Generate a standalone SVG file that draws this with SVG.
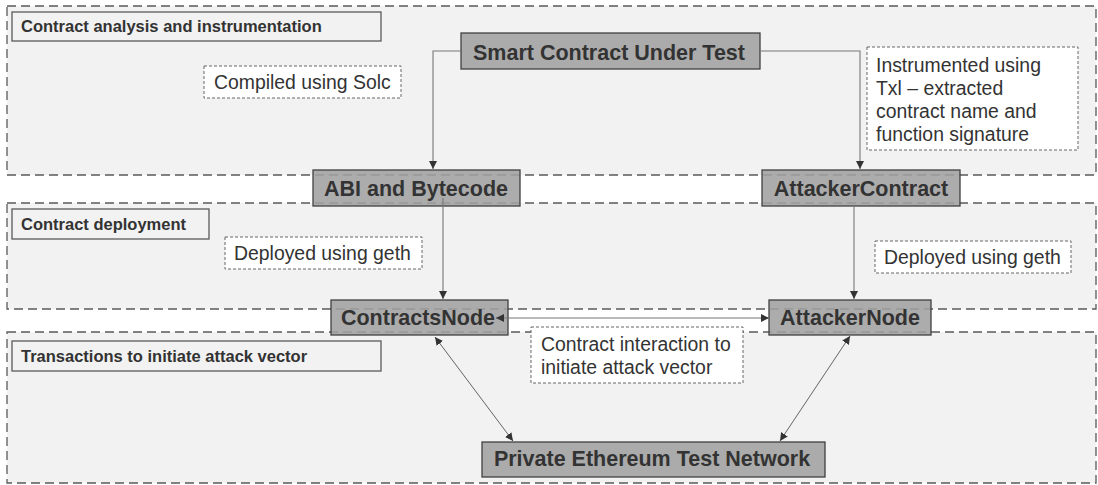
<svg xmlns="http://www.w3.org/2000/svg" width="1098" height="485" viewBox="0 0 1098 485">
<style>
.sec{fill:#f2f2f2;stroke:#595959;stroke-width:1.3;stroke-dasharray:9 5}
.lbl{fill:#f2f2f2;stroke:#595959;stroke-width:1.3}
.lt{font-family:"Liberation Sans",Arial,sans-serif;font-weight:bold;font-size:16.5px;fill:#333}
.note{fill:#fff;stroke:#666;stroke-width:1;stroke-dasharray:3 2}
.nt{font-family:"Liberation Sans",Arial,sans-serif;font-size:19.4px;fill:#333}
.node{fill:#a0a0a0;fill-opacity:0.88;stroke:#404040;stroke-width:1.3}
.ntx{font-family:"Liberation Sans",Arial,sans-serif;font-weight:bold;font-size:21.5px;fill:#333;text-anchor:middle}
.con{fill:none;stroke:#777;stroke-width:1.1}
.con2{fill:none;stroke:#555;stroke-width:0.9}
</style>
<defs>
<marker id="ah" viewBox="0 0 10 10" refX="10" refY="5" markerWidth="8" markerHeight="8" markerUnits="userSpaceOnUse" orient="auto-start-reverse">
<path d="M0,0 L10,5 L0,10 z" fill="#333"/>
</marker>
</defs>
<rect width="1098" height="485" fill="#fff"/>
<g id="sections">
<rect class="sec" x="7" y="6" width="1089" height="169"/>
<rect class="sec" x="7" y="203" width="1089" height="106"/>
<rect class="sec" x="7" y="332" width="1089" height="151"/>
</g>
<g id="label-analysis"><rect class="lbl" x="12" y="12" width="369" height="29"/><text class="lt" x="21" y="32">Contract analysis and instrumentation</text></g>
<g id="label-deployment"><rect class="lbl" x="12" y="209" width="197" height="30"/><text class="lt" x="21" y="230">Contract deployment</text></g>
<g id="label-transactions"><rect class="lbl" x="12" y="341" width="369" height="30"/><text class="lt" x="21" y="362">Transactions to initiate attack vector</text></g>
<g id="note-solc"><rect class="note" x="204" y="66" width="197" height="32"/><text class="nt" x="214" y="89">Compiled using Solc</text></g>
<g id="note-txl"><rect class="note" x="867" y="47" width="211" height="103"/>
<text class="nt" x="876" y="72">Instrumented using</text>
<text class="nt" x="876" y="95">Txl – extracted</text>
<text class="nt" x="876" y="118">contract name and</text>
<text class="nt" x="876" y="141">function signature</text></g>
<g id="note-geth-left"><rect class="note" x="225" y="237" width="197" height="32"/><text class="nt" x="234" y="260">Deployed using geth</text></g>
<g id="note-geth-right"><rect class="note" x="875" y="241" width="196" height="32"/><text class="nt" x="884" y="264">Deployed using geth</text></g>
<g id="note-interaction"><rect class="note" x="531" y="327" width="212" height="56"/>
<text class="nt" x="541" y="351">Contract interaction to</text>
<text class="nt" x="541" y="374">initiate attack vector</text></g>
<g id="node-scut"><rect class="node" x="461" y="33" width="299" height="36"/><text class="ntx" x="609" y="60">Smart Contract Under Test</text></g>
<g id="node-abi"><rect class="node" x="313" y="170" width="207" height="36"/><text class="ntx" x="416" y="196">ABI and Bytecode</text></g>
<g id="node-attackercontract"><rect class="node" x="762" y="170" width="198" height="36"/><text class="ntx" x="861" y="196">AttackerContract</text></g>
<g id="node-contractsnode"><rect class="node" x="331" y="300" width="177" height="35"/><text class="ntx" x="418" y="325">ContractsNode</text></g>
<g id="node-attackernode"><rect class="node" x="769" y="300" width="162" height="35"/><text class="ntx" x="850" y="325">AttackerNode</text></g>
<g id="node-petn"><rect class="node" x="482" y="442" width="343" height="35"/><text class="ntx" x="652" y="466">Private Ethereum Test Network</text></g>
<g id="connectors">
<polyline class="con" points="461,51 433,51 433,169" marker-end="url(#ah)"/>
<polyline class="con" points="760,51 860,51 860,169" marker-end="url(#ah)"/>
<line class="con" x1="443" y1="198" x2="443" y2="299" marker-end="url(#ah)"/>
<line class="con" x1="854" y1="206" x2="854" y2="299" marker-end="url(#ah)"/>
<line class="con" x1="496" y1="318" x2="769" y2="318" marker-start="url(#ah)" marker-end="url(#ah)"/>
<line class="con2" x1="435" y1="337" x2="513" y2="441" marker-start="url(#ah)" marker-end="url(#ah)"/>
<line class="con2" x1="850" y1="336" x2="780" y2="441" marker-start="url(#ah)" marker-end="url(#ah)"/>
</g>
</svg>
